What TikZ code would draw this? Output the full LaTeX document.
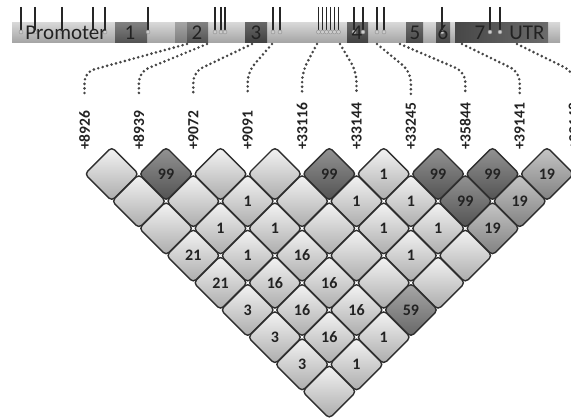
\documentclass[tikz,border=0pt]{standalone}
\usepackage{fontspec}
\setmainfont{Carlito}
\usetikzlibrary{shapes.geometric}
\definecolor{edgec}{HTML}{2E2E2E}
\definecolor{txtc}{HTML}{222222}
\definecolor{dotc}{HTML}{454545}
\begin{document}
\begin{tikzpicture}[x=1pt,y=-1pt,
  cell/.style={diamond, aspect=1, minimum width=53.8pt, minimum height=53.8pt,
    inner sep=0pt, outer sep=0pt, draw=edgec, line width=1.4pt, rounded corners=4pt,
    font=\bfseries\fontsize{16}{16}\selectfont, text=txtc},
  cellB/.style={top color=black!4, bottom color=black!33},
  cellM/.style={top color=black!22, bottom color=black!50},
  cellE/.style={top color=black!34, bottom color=black!60},
  cellD/.style={top color=black!42, bottom color=black!68},
  snplabel/.style={rotate=90, anchor=west, inner sep=0pt, text=txtc,
    font=\bfseries\fontsize{15.5}{15.5}\selectfont},
  dotline/.style={draw=dotc, line width=2.9pt, line cap=round,
    dash pattern=on 0pt off 4.6pt, rounded corners=10pt},
  barlabel/.style={anchor=base, inner sep=0pt, text=txtc, font=\fontsize{21}{21}\selectfont},
  exon/.style={top color=black!50, bottom color=black!68},
  tick/.style={draw=black!85, line width=1.8pt},
  blob/.style={fill=black!20, draw=black!45, line width=0.4pt}
]
\useasboundingbox (0,0) rectangle (571,419);
\clip (0,0) rectangle (571,419);

% gene bar
\shade[top color=black!16, bottom color=black!36] (12,23) rectangle (560,43);
\shade[exon] (115,23) rectangle (147,43);
\shade[top color=black!36, bottom color=black!52] (175,23) rectangle (187,43);
\shade[exon] (187,23) rectangle (208,43);
\shade[top color=black!60, bottom color=black!75] (245,23) rectangle (267,43);
\shade[top color=black!60, bottom color=black!75] (347,23) rectangle (368,43);
\shade[top color=black!58, bottom color=black!72] (406,23) rectangle (423,43);
\shade[top color=black!58, bottom color=black!72] (436,23) rectangle (450,43);
\shade[left color=black!72, right color=black!58] (455,23) rectangle (548,43);

% SNP ticks
\foreach \t in {21,35,62,93,105,148,215,221,225,273,280,318.5,322.5,326.5,330.5,334.5,338.5,354,363,377,384,442,490,500}{
  \draw[tick] (\t,7) -- (\t,31);
  \draw[blob] (\t,32) circle (2pt);
}

\node[barlabel] (prom) at (66,40) {Promoter};
\node[barlabel] (x1) at (130,40) {1};
\node[barlabel] (x2) at (197,40) {2};
\node[barlabel] (x3) at (256,40) {3};
\node[barlabel] (x4) at (357,40) {4};
\node[barlabel] (x5) at (415,40) {5};
\node[barlabel] (x6) at (443,40) {6};
\node[barlabel] (x7) at (480,40) {7};
\node[barlabel] (utr) at (527,40) {UTR};

% connectors and SNP labels
\foreach \k/\s/\t in {1/187/+8926, 2/207/+8939, 3/252/+9072, 4/272/+9091, 5/317/+33116,
  6/340/+33144, 7/377/+33245, 8/400/+35844, 9/462/+39141, 10/517/+39148}{
  \pgfmathsetmacro\xx{84.5+(\k-1)*54.4}
  \coordinate (s\k) at (\s,44);
  \coordinate (k\k) at (\xx,72);
  \coordinate (e\k) at (\xx,94);
  \node[snplabel] (l\k) at (\xx,150) {\t};
  \draw[dotline] (s\k) -- (k\k) -- (e\k);
}

% LD triangle
\foreach \i/\j/\v/\c in {
  1/2/{}/cellB, 2/3/99/cellD, 3/4/{}/cellB, 4/5/{}/cellB, 5/6/99/cellD, 6/7/1/cellB, 7/8/99/cellD, 8/9/99/cellD, 9/10/19/cellM,
  1/3/{}/cellB, 2/4/{}/cellB, 3/5/1/cellB, 4/6/{}/cellB, 5/7/1/cellB, 6/8/1/cellB, 7/9/99/cellD, 8/10/19/cellM,
  1/4/{}/cellB, 2/5/1/cellB, 3/6/1/cellB, 4/7/{}/cellB, 5/8/1/cellB, 6/9/1/cellB, 7/10/19/cellM,
  1/5/21/cellB, 2/6/1/cellB, 3/7/16/cellB, 4/8/{}/cellB, 5/9/1/cellB, 6/10/{}/cellB,
  1/6/21/cellB, 2/7/16/cellB, 3/8/16/cellB, 4/9/{}/cellB, 5/10/{}/cellB,
  1/7/3/cellB, 2/8/16/cellB, 3/9/16/cellB, 4/10/59/cellE,
  1/8/3/cellB, 2/9/16/cellB, 3/10/1/cellB,
  1/9/3/cellB, 2/10/1/cellB,
  1/10/{}/cellB}{
  \pgfmathsetmacro\cx{84.5+((\i+\j)/2-1)*54.4}
  \pgfmathsetmacro\cy{174+(\j-\i-1)*27.2}
  \node[cell,\c] (c\i-\j) at (\cx,\cy) {\v};
}
\end{tikzpicture}
\end{document}
